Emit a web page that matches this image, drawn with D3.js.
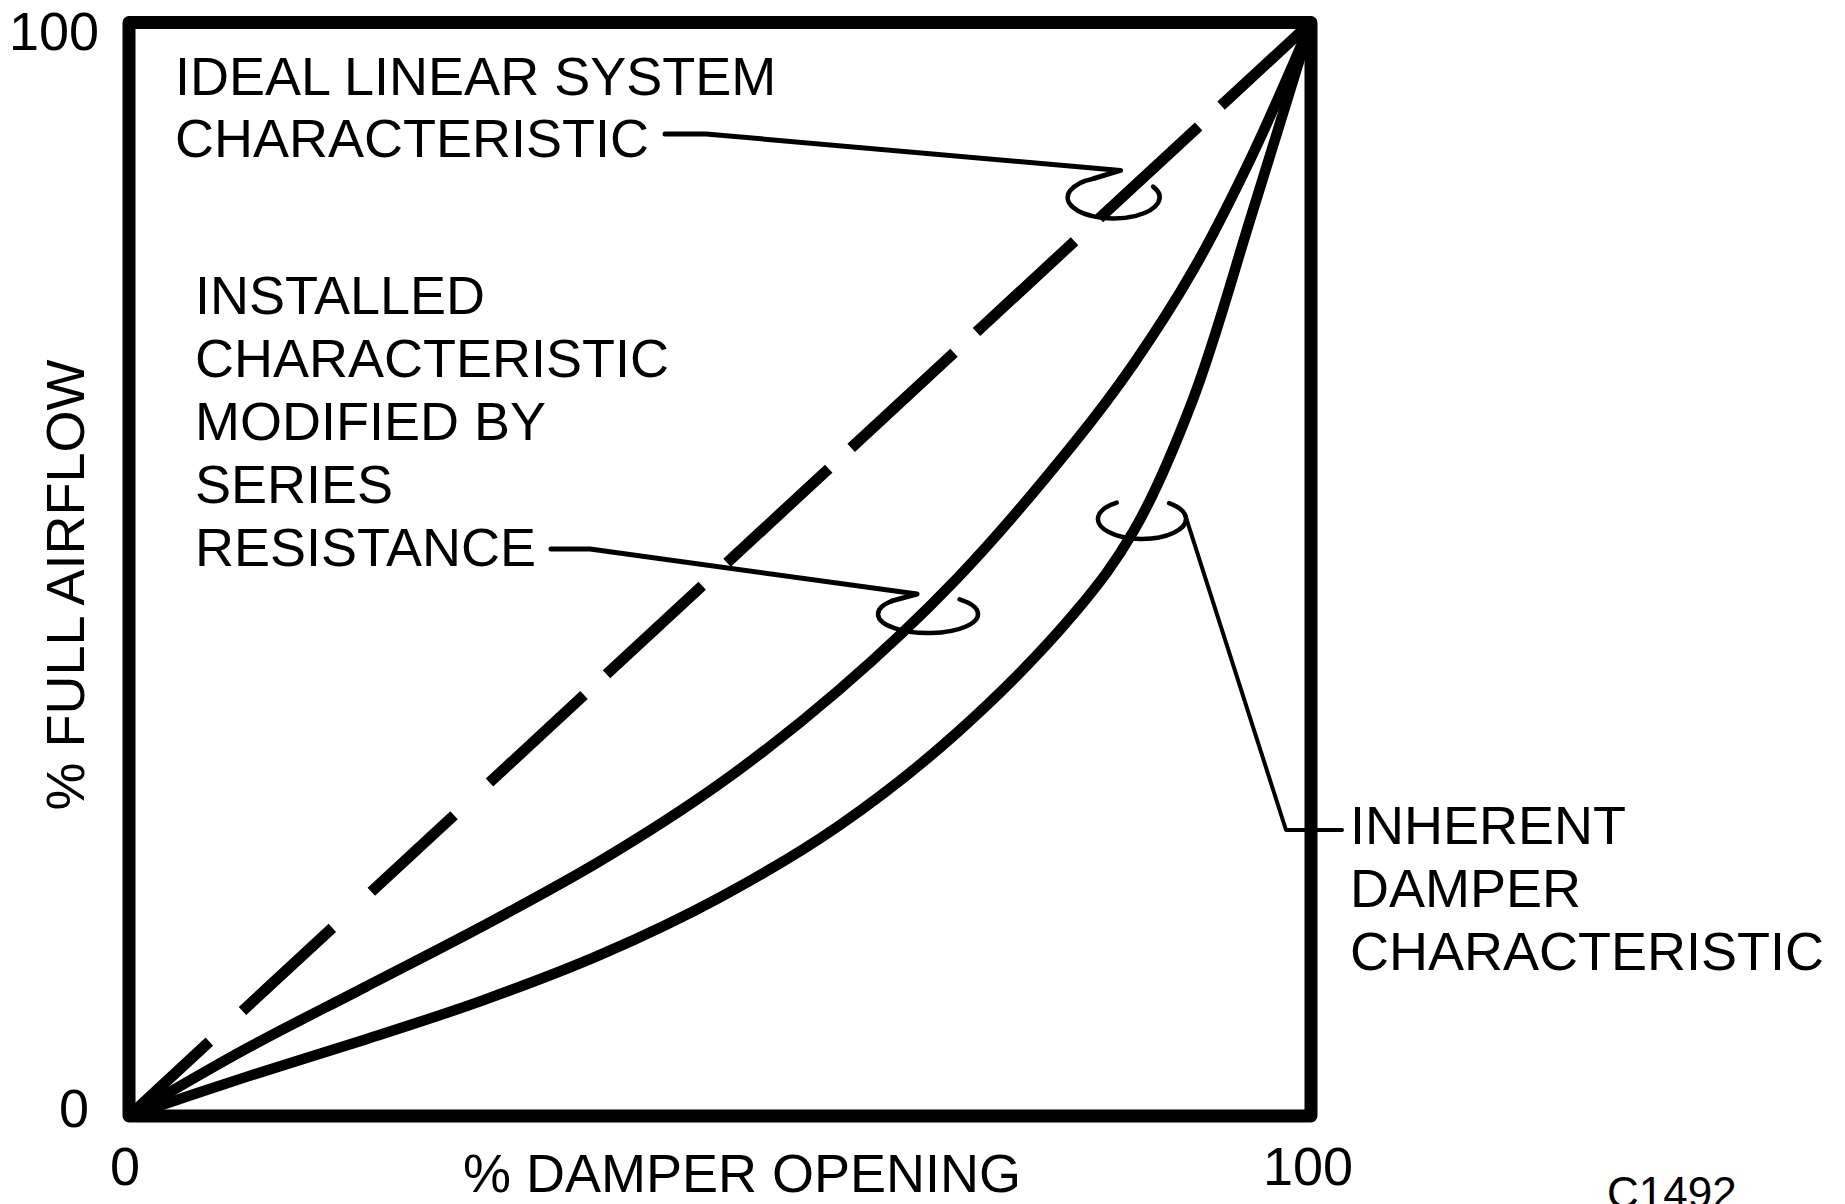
<!DOCTYPE html>
<html>
<head>
<meta charset="utf-8">
<script src="https://cdn.jsdelivr.net/npm/d3@7"></script>
<style>
  html, body { margin: 0; padding: 0; background: #fff; }
  svg text { font-family: "Liberation Sans", Arial, Helvetica, sans-serif; fill: #000; }
</style>
</head>
<body>
<svg id="chart" width="1845" height="1204"></svg>
<script>
// Axis ticks (percent)
const tickValues = [0, 100];
const tickLabels = ["0", "100"];

// Ideal linear system characteristic
const idealOpening = [0, 100];
const idealFlow = [0, 100];

// Installed characteristic (modified by series resistance)
const installedOpening = [0, 10, 20, 30, 40, 50, 60, 70, 80, 85, 90, 95, 100];
const installedFlow    = [0, 6.2, 11.8, 17.4, 23.4, 30.4, 38.9, 49.1, 61.6, 68.8, 77.3, 87.8, 100];

// Inherent damper characteristic
const inherentOpening = [0, 10, 20, 30, 40, 50, 60, 70, 80, 85, 90, 95, 100];
const inherentFlow    = [0, 3.6, 7.0, 10.6, 14.8, 20.0, 26.5, 35.0, 46.0, 53.5, 65.5, 82.5, 100];

// Callout ring anchors on each curve (percent opening, percent flow)
const idealRing = [83.3, 84.0];
const installedRing = [67.6, 45.9];
const inherentRing = [85.7, 54.6];

const svg = d3.select("#chart");
const plot = { left: 129, right: 1311, top: 22.5, bottom: 1116 };

const x = d3.scaleLinear().domain([0, 100]).range([plot.left, plot.right]);
const y = d3.scaleLinear().domain([0, 100]).range([plot.bottom, plot.top]);

const zip = (xs, ys) => xs.map((v, i) => [v, ys[i]]);
const line = d3.line().x(d => x(d[0])).y(d => y(d[1])).curve(d3.curveCatmullRom.alpha(0.5));

// Dash breaks of the ideal line, as percent of its run (dash, gap, dash, ...)
const dashBreaks = [0, 6.8, 9.6, 17.2, 20.5, 27.5, 30.5, 38.5, 40.4, 48.5, 50.6, 59.2,
                    61.1, 69.8, 71.7, 80.0, 82.1, 90.5, 92.4, 100];

const ideal = svg.append("path")
  .datum(zip(idealOpening, idealFlow))
  .attr("d", line)
  .attr("fill", "none").attr("stroke", "#000")
  .attr("stroke-width", 11);
const idealLen = ideal.node().getTotalLength();
ideal.attr("stroke-dasharray",
  d3.pairs(dashBreaks).map(([a, b]) => ((b - a) / 100 * idealLen).toFixed(1)).join(" "));

svg.append("path")
  .datum(zip(installedOpening, installedFlow))
  .attr("d", line)
  .attr("fill", "none").attr("stroke", "#000").attr("stroke-width", 10.5);

svg.append("path")
  .datum(zip(inherentOpening, inherentFlow))
  .attr("d", line)
  .attr("fill", "none").attr("stroke", "#000").attr("stroke-width", 10.5);

// Plot frame
svg.append("rect")
  .attr("x", x(0)).attr("y", y(100))
  .attr("width", x(100) - x(0)).attr("height", y(0) - y(100))
  .attr("fill", "none").attr("stroke", "#000")
  .attr("stroke-width", 13).attr("stroke-linejoin", "round");

// Open ring around a curve: elliptical arc from angle a0 to a1 (degrees, clockwise)
function ring(center, rx, ry, a0, a1) {
  const cx = x(center[0]), cy = y(center[1]);
  const p = a => [cx + rx * Math.cos(a * Math.PI / 180), cy + ry * Math.sin(a * Math.PI / 180)];
  const s = p(a0), e = p(a1);
  const large = (a1 - a0) > 180 ? 1 : 0;
  return { cx, cy, p, d: `M${s[0]},${s[1]} A${rx},${ry} 0 ${large} 1 ${e[0]},${e[1]}` };
}

const callout = svg.append("g").attr("fill", "none").attr("stroke", "#000")
  .attr("stroke-linejoin", "round").attr("stroke-linecap", "round");

// Ideal linear callout
const r1 = ring(idealRing, 46, 21, -31, 245);
callout.append("path").attr("d", r1.d).attr("stroke-width", 4.5);
callout.append("path")
  .attr("d", `M665,134 L706,134 L${r1.cx + 7},${r1.cy - 27} L${r1.p(245)[0]},${r1.p(245)[1]}`)
  .attr("stroke-width", 5);

// Installed callout
const r2 = ring(installedRing, 50, 19, -51, 224);
callout.append("path").attr("d", r2.d).attr("stroke-width", 4.5);
callout.append("path")
  .attr("d", `M551,549 L590,549 L${r2.cx - 11},${r2.cy - 20} L${r2.p(224)[0]},${r2.p(224)[1]}`)
  .attr("stroke-width", 5);

// Inherent callout
const r3 = ring(inherentRing, 44, 20, -52, 235);
callout.append("path").attr("d", r3.d).attr("stroke-width", 4.5);
callout.append("path")
  .attr("d", `M${r3.p(-10)[0]},${r3.p(-10)[1]} L1286,830 L1342,830`)
  .attr("stroke-width", 4);

// Text blocks
const fs = 54;
function block(lines, x0, y0, step) {
  const t = svg.append("text").attr("font-size", fs);
  lines.forEach((s, i) => t.append("tspan").attr("x", x0).attr("y", y0 + i * step).text(s));
}
block(["IDEAL LINEAR SYSTEM", "CHARACTERISTIC"], 175, 95, 62);
block(["INSTALLED", "CHARACTERISTIC", "MODIFIED BY", "SERIES", "RESISTANCE"], 195, 314, 63);
block(["INHERENT", "DAMPER", "CHARACTERISTIC"], 1350, 844, 63);

// Axis tick labels
svg.append("g").selectAll("text").data(tickValues).join("text")
  .attr("font-size", fs)
  .attr("text-anchor", "end")
  .attr("x", v => (v === 0 ? 89 : 99))
  .attr("y", v => y(v) + (v === 0 ? 11 : 27))
  .text((v, i) => tickLabels[i]);

svg.append("g").selectAll("text").data(tickValues).join("text")
  .attr("font-size", fs)
  .attr("text-anchor", "middle")
  .attr("x", v => x(v) + (v === 0 ? -4 : -3))
  .attr("y", 1185)
  .text((v, i) => tickLabels[i]);

// Axis titles
svg.append("text").attr("font-size", fs).attr("text-anchor", "middle")
  .attr("transform", `translate(84,585) rotate(-90)`)
  .text("% FULL AIRFLOW");

svg.append("text").attr("font-size", fs).attr("text-anchor", "middle")
  .attr("x", 742).attr("y", 1192)
  .text("% DAMPER OPENING");

// Figure code
svg.append("text").attr("font-size", 44).attr("x", 1607).attr("y", 1208).text("C1492");
</script>
</body>
</html>
